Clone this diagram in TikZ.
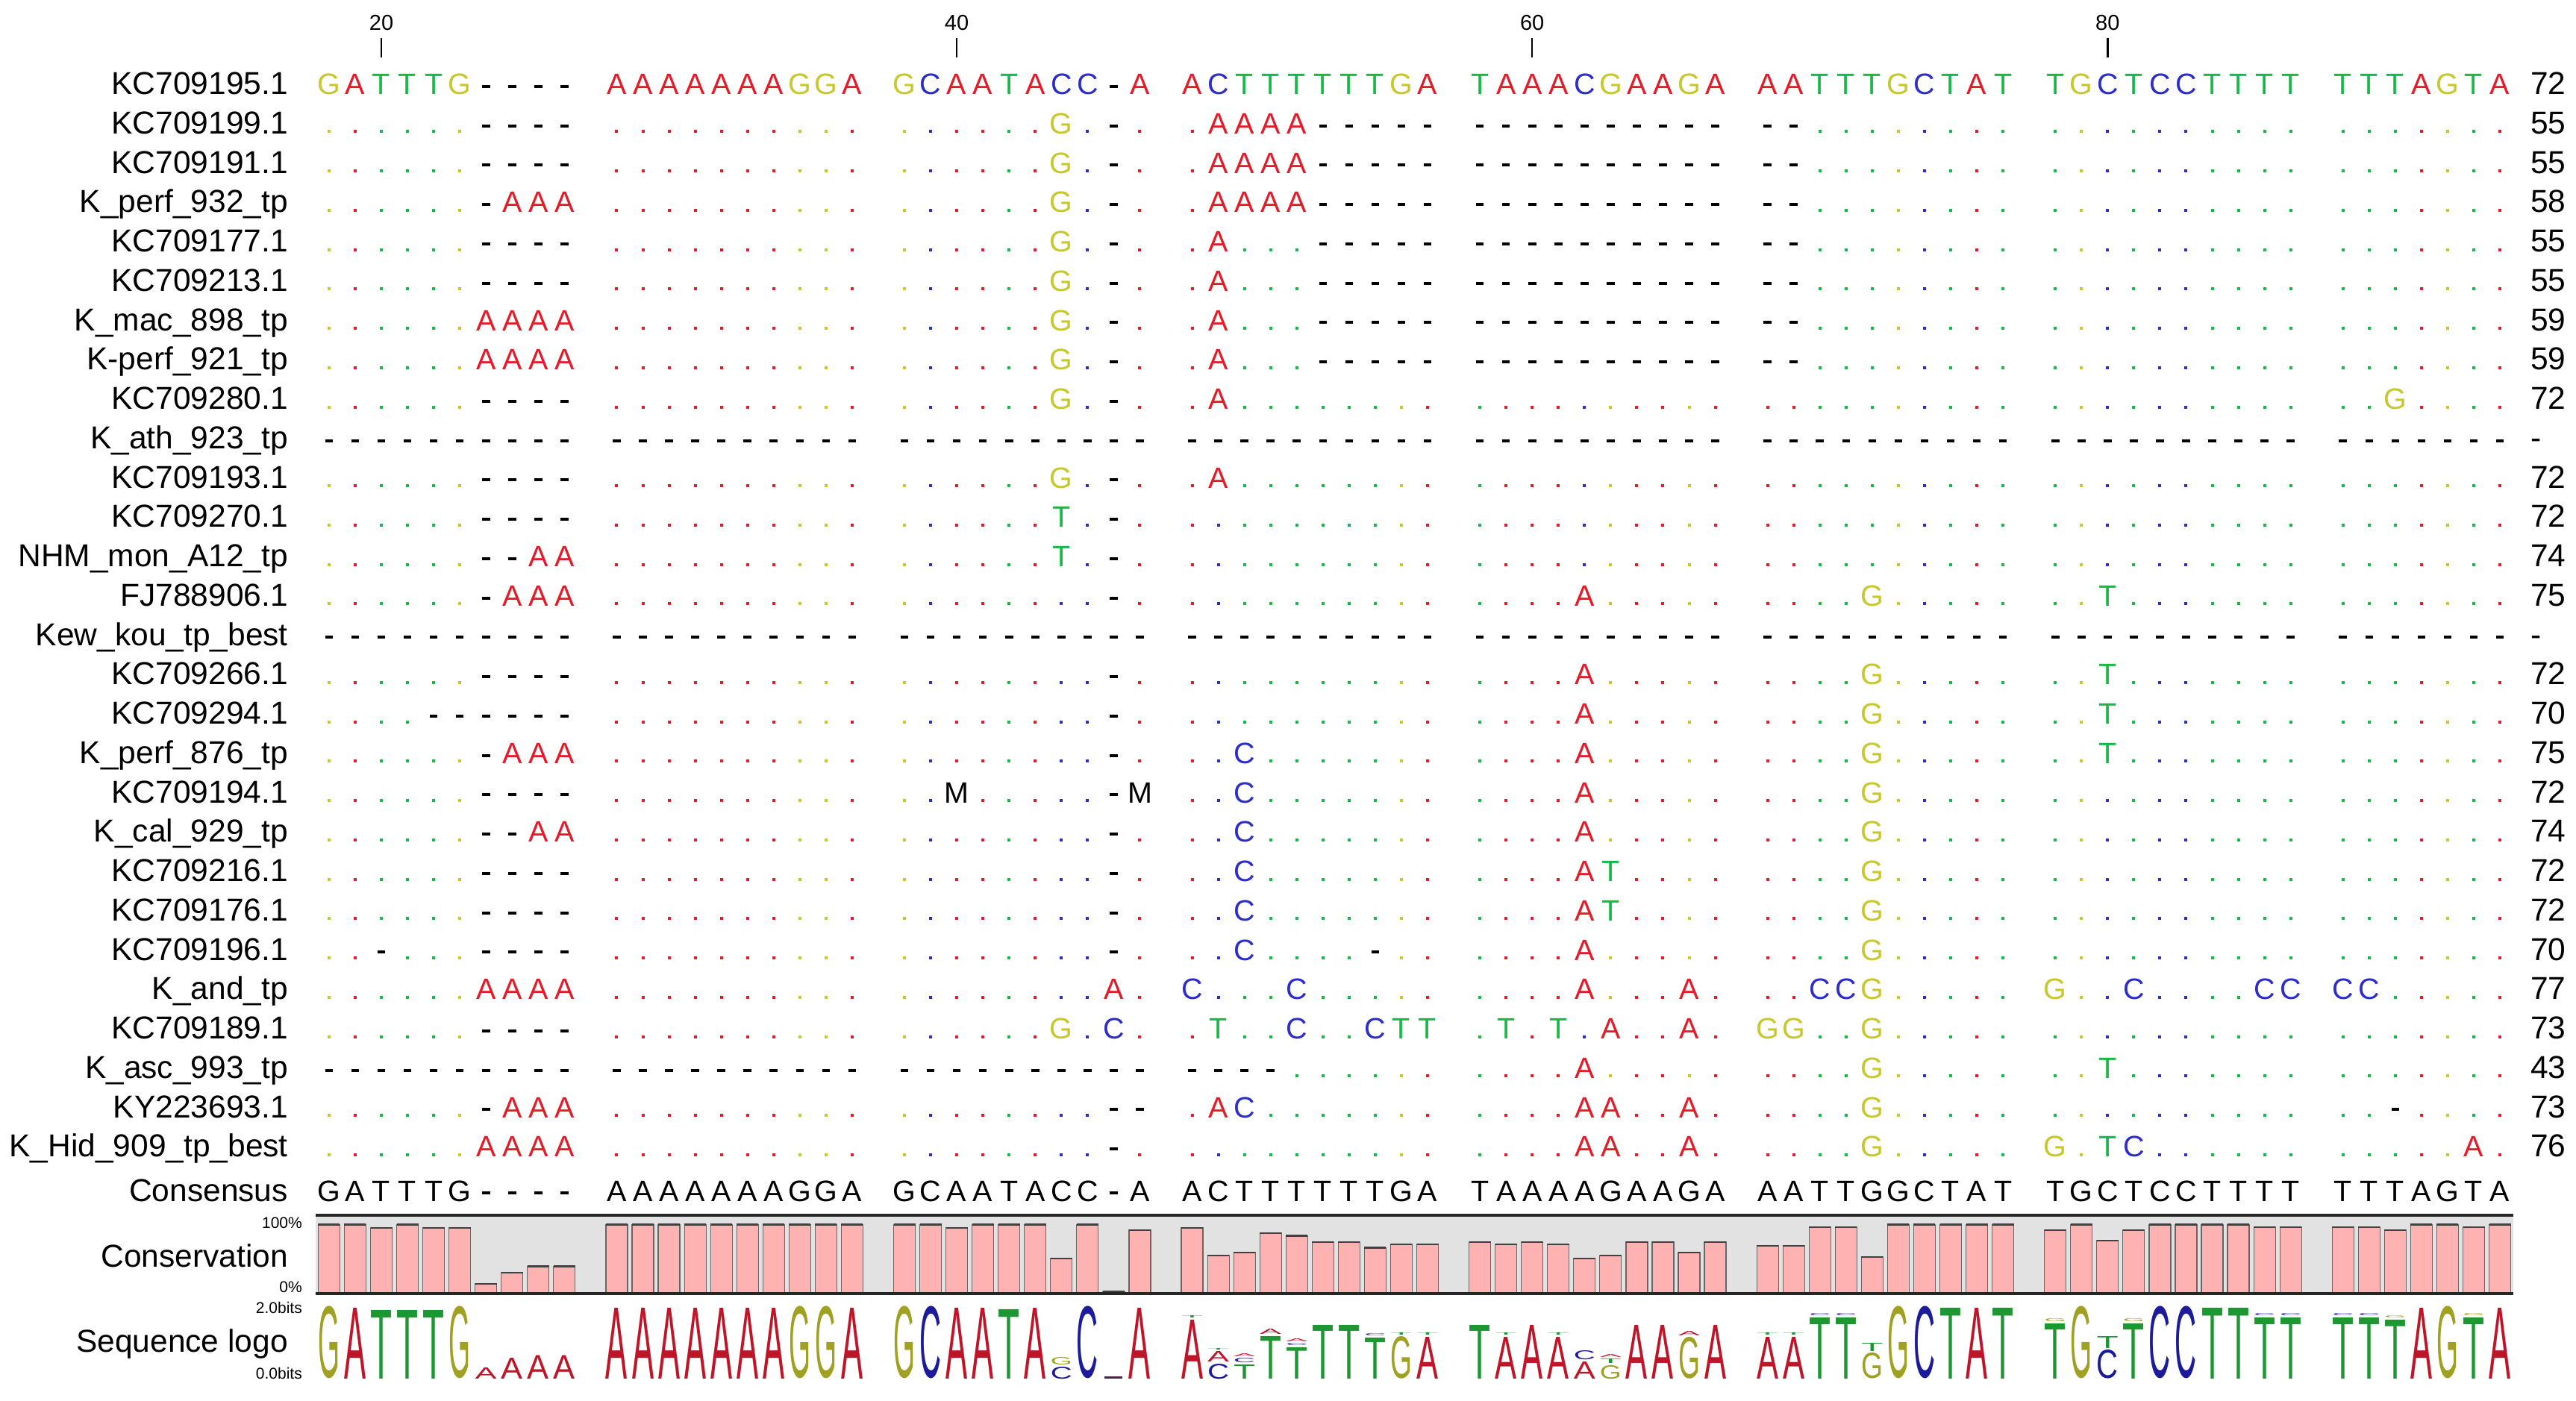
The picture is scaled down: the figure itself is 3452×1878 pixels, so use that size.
\documentclass[tikz,border=0pt]{standalone}
\usepackage{fontspec}
\setmainfont{Liberation Sans}
\usepackage{graphicx}
\definecolor{colA}{RGB}{228,28,42}
\definecolor{colC}{RGB}{45,45,200}
\definecolor{colG}{RGB}{200,200,45}
\definecolor{colT}{RGB}{20,185,70}
\definecolor{colM}{RGB}{0,0,0}
\definecolor{logoA}{RGB}{190,22,40}
\definecolor{logoC}{RGB}{28,28,155}
\definecolor{logoG}{RGB}{160,160,35}
\definecolor{logoT}{RGB}{30,150,50}
\definecolor{logogap}{RGB}{80,30,80}
\definecolor{barfill}{RGB}{255,178,178}
\definecolor{panelbg}{RGB}{226,226,226}
\newcommand\seqfont{\fontsize{39.5pt}{40pt}\selectfont}
\newcommand\namefont{\fontsize{42.5pt}{43pt}\selectfont}
\newcommand\rulerfont{\fontsize{29pt}{30pt}\selectfont}
\newcommand\tinyfont{\fontsize{21pt}{22pt}\selectfont}
\newcommand\alndot[3]{\fill[col#3] (#1-2,#2-5) rectangle (#1+2,#2-1);}
\newcommand\alndash[2]{\fill[black] (#1-5.3,#2-12.8) rectangle (#1+5.3,#2-8.8);}
\newcommand\alnletter[3]{\node[seqlet,text=col#3] at (#1,#2) {#3};}
\ExplSyntaxOn
\int_new:N \l_aln_k_int
\fp_new:N \l_aln_x_fp
\tl_new:N \g_aln_ref_tl
\cs_new_protected:Npn \alnsetref #1
  {
    \tl_gset:Nn \g_aln_ref_tl {#1}
    \tl_gremove_all:Nn \g_aln_ref_tl {/}
  }
\cs_new_protected:Npn \alnrow #1#2
  {
    \int_zero:N \l_aln_k_int
    \tl_map_inline:nn {#2}
      {
        \str_if_eq:nnF {##1} {/}
          {
            \fp_set:Nn \l_aln_x_fp
              { 440.9 + 35.05 * ( \int_use:N \l_aln_k_int + \int_div_truncate:nn { \l_aln_k_int } { 10 } ) }
            \str_case:nnF {##1}
              {
                {.} { \use:e { \exp_not:N \alndot { \fp_use:N \l_aln_x_fp } {#1} { \tl_item:Nn \g_aln_ref_tl { \l_aln_k_int + 1 } } } }
                {-} { \use:e { \exp_not:N \alndash { \fp_use:N \l_aln_x_fp } {#1} } }
              }
              { \use:e { \exp_not:N \alnletter { \fp_use:N \l_aln_x_fp } {#1} {##1} } }
            \int_incr:N \l_aln_k_int
          }
      }
  }
\ExplSyntaxOff
\newcommand\logocol[2]{%
  \pgfmathsetmacro\lx{440.9+35.05*(#1+floor(#1/10))}%
  \xdef\ly{1848.3}%
  \foreach \L/\H in {#2}{%
    \node[logolet,text=logo\L] at (\lx,\ly) {\resizebox{29pt}{\H pt}{\L}};%
    \pgfmathsetmacro\tmp{\ly-\H-2.5}\xdef\ly{\tmp}%
  }%
}
\begin{document}
\begin{tikzpicture}[x=1pt,y=-1pt,
  seqlet/.style={anchor=base,inner sep=0pt,outer sep=0pt,font=\seqfont},
  namelab/.style={anchor=base east,inner sep=0pt,font=\namefont},
  numlab/.style={anchor=base west,inner sep=0pt,font=\namefont},
  rulerlab/.style={anchor=base,inner sep=0pt,font=\rulerfont},
  smalllab/.style={anchor=base east,inner sep=0pt,font=\tinyfont},
  logolet/.style={anchor=south,inner sep=0pt,outer sep=0pt}]
\fill[white] (0,0) rectangle (3452,1878);
\useasboundingbox (0,0) rectangle (3452,1878);
% ruler
\foreach \k/\lab in {2/20,22/40,42/60,62/80}{
  \pgfmathsetmacro\tx{440.9+35.05*(\k+floor(\k/10))}
  \node[rulerlab] (rl\lab) at (\tx,41) {\lab};
  \draw[line width=2.5pt] (\tx,51) -- (\tx,77);
}
% names and lengths
\foreach \r/\nm/\nn in {1/KC709195.1/72, 2/KC709199.1/55, 3/KC709191.1/55, 4/K\_perf\_932\_tp/58, 5/KC709177.1/55, 6/KC709213.1/55, 7/K\_mac\_898\_tp/59, 8/K-perf\_921\_tp/59, 9/KC709280.1/72, 10/K\_ath\_923\_tp/-, 11/KC709193.1/72, 12/KC709270.1/72, 13/NHM\_mon\_A12\_tp/74, 14/FJ788906.1/75, 15/Kew\_kou\_tp\_best/-, 16/KC709266.1/72, 17/KC709294.1/70, 18/K\_perf\_876\_tp/75, 19/KC709194.1/72, 20/K\_cal\_929\_tp/74, 21/KC709216.1/72, 22/KC709176.1/72, 23/KC709196.1/70, 24/K\_and\_tp/77, 25/KC709189.1/73, 26/K\_asc\_993\_tp/43, 27/KY223693.1/73, 28/K\_Hid\_909\_tp\_best/76}{
  \pgfmathsetmacro\bl{126.7+52.75*(\r-1)}
  \node[namelab] (name\r) at (386,\bl) {\nm};
  \node[numlab] (num\r) at (3391,\bl) {\nn};
}
% alignment
\alnsetref{GATTTG----/AAAAAAAGGA/GCAATACC-A/ACTTTTTTGA/TAAACGAAGA/AATTTGCTAT/TGCTCCTTTT/TTTAGTA}
\alnrow{126.7}{GATTTG----/AAAAAAAGGA/GCAATACC-A/ACTTTTTTGA/TAAACGAAGA/AATTTGCTAT/TGCTCCTTTT/TTTAGTA}
\alnrow{179.45}{......----/........../......G.-./.AAAA-----/----------/--......../........../.......}
\alnrow{232.2}{......----/........../......G.-./.AAAA-----/----------/--......../........../.......}
\alnrow{284.95}{......-AAA/........../......G.-./.AAAA-----/----------/--......../........../.......}
\alnrow{337.7}{......----/........../......G.-./.A...-----/----------/--......../........../.......}
\alnrow{390.45}{......----/........../......G.-./.A...-----/----------/--......../........../.......}
\alnrow{443.2}{......AAAA/........../......G.-./.A...-----/----------/--......../........../.......}
\alnrow{495.95}{......AAAA/........../......G.-./.A...-----/----------/--......../........../.......}
\alnrow{548.7}{......----/........../......G.-./.A......../........../........../........../..G....}
\alnrow{601.45}{----------/----------/----------/----------/----------/----------/----------/-------}
\alnrow{654.2}{......----/........../......G.-./.A......../........../........../........../.......}
\alnrow{706.95}{......----/........../......T.-./........../........../........../........../.......}
\alnrow{759.7}{......--AA/........../......T.-./........../........../........../........../.......}
\alnrow{812.45}{......-AAA/........../........-./........../....A...../....G...../..T......./.......}
\alnrow{865.2}{----------/----------/----------/----------/----------/----------/----------/-------}
\alnrow{917.95}{......----/........../........-./........../....A...../....G...../..T......./.......}
\alnrow{970.7}{....------/........../........-./........../....A...../....G...../..T......./.......}
\alnrow{1023.45}{......-AAA/........../........-./..C......./....A...../....G...../..T......./.......}
\alnrow{1076.2}{......----/........../..M.....-M/..C......./....A...../....G...../........../.......}
\alnrow{1128.95}{......--AA/........../........-./..C......./....A...../....G...../........../.......}
\alnrow{1181.7}{......----/........../........-./..C......./....AT..../....G...../........../.......}
\alnrow{1234.45}{......----/........../........-./..C......./....AT..../....G...../........../.......}
\alnrow{1287.2}{..-...----/........../........-./..C....-../....A...../....G...../........../.......}
\alnrow{1339.95}{......AAAA/........../........A./C...C...../....A...A./..CCG...../G..C....CC/CC.....}
\alnrow{1392.7}{......----/........../......G.C./.T..C..CTT/.T.T.A..A./GG..G...../........../.......}
\alnrow{1445.45}{----------/----------/----------/----....../....A...../....G...../..T......./.......}
\alnrow{1498.2}{......-AAA/........../........--/.AC......./....AA..A./....G...../........../..-....}
\alnrow{1550.95}{......AAAA/........../........-./........../....AA..A./....G...../G.TC....../.....A.}
% consensus
\node[namelab] (conslab) at (386,1610) {Consensus};
\begin{scope}
\colorlet{colA}{black}\colorlet{colC}{black}\colorlet{colG}{black}\colorlet{colT}{black}
\alnrow{1610}{GATTTG----/AAAAAAAGGA/GCAATACC-A/ACTTTTTTGA/TAAAAGAAGA/AATTGGCTAT/TGCTCCTTTT/TTTAGTA}
\end{scope}
% conservation panel
\fill[panelbg] (423,1629) rectangle (3368,1734);
\foreach \h [count=\k from 0] in {92.5,92.5,88,92.5,88,88,13,28,36.5,36.5,
  92.5,92.5,92.5,92.5,92.5,92.5,92.5,92.5,92.5,92.5,
  92.5,92.5,88,92.5,92.5,92.5,47,92.5,2.5,85,
  88,51,55,81,77.5,69,69,61.5,66,66,
  69,66,69,66,47,51,69,69,55,69,
  64,64,89,89,49,92.5,92.5,92.5,92.5,92.5,
  85,92.5,71,85,92.5,92.5,92.5,92.5,89,89,
  89,89,85,92.5,92.5,89,92.5}{
  \pgfmathsetmacro\bx{440.9+35.05*(\k+floor(\k/10))}
  \fill[barfill,draw=black!60,line width=1.2pt] (\bx-14.5,1734) rectangle (\bx+14.5,1734-\h);
  \draw[black!75,line width=2.2pt] (\bx-14.5,1734-\h) -- (\bx+14.5,1734-\h);
}
\draw[black!85,line width=3.5pt] (423,1629) -- (3368,1629);
\draw[black!85,line width=3.5pt] (423,1734) -- (3368,1734);
\node[namelab] (conslabel) at (386,1698) {Conservation};
\node[smalllab] (p100) at (405,1646) {100\%};
\node[smalllab] (p0) at (405,1732) {0\%};
% sequence logo
\node[namelab] (logolabel) at (386,1812) {Sequence logo};
\node[smalllab] (b2) at (405,1760) {2.0bits};
\node[smalllab] (b0) at (405,1848) {0.0bits};
\logocol{0}{G/95.5}\logocol{1}{A/95}\logocol{2}{T/92}\logocol{3}{T/92}\logocol{4}{T/92}
\logocol{5}{G/95.5}\logocol{6}{A/15}\logocol{7}{A/28}\logocol{8}{A/31.5}\logocol{9}{A/31.5}
\logocol{10}{A/95}\logocol{11}{A/95}\logocol{12}{A/95}\logocol{13}{A/95}\logocol{14}{A/95}
\logocol{15}{A/95}\logocol{16}{A/95}\logocol{17}{G/95.5}\logocol{18}{G/95.5}\logocol{19}{A/95}
\logocol{20}{G/95.5}\logocol{21}{C/95.5}\logocol{22}{A/95}\logocol{23}{A/95}\logocol{24}{T/93}
\logocol{25}{A/95}\logocol{26}{C/16,G/10}\logocol{27}{C/95.5}\logocol{29}{A/95}
\pgfmathsetmacro\gx{440.9+35.05*30}
\fill[logogap] (\gx-12,1848.3) rectangle (\gx+12,1844.5);
\logocol{30}{A/79,T/3}\logocol{31}{C/20,A/14,T/2}\logocol{32}{T/19,C/6,A/4}
\logocol{33}{T/57,A/7}\logocol{34}{T/42,C/3,A/4}\logocol{35}{T/72}\logocol{36}{T/72}
\logocol{37}{T/55,C/3}\logocol{38}{G/56,T/3}\logocol{39}{A/56,T/3}
\logocol{40}{T/72}\logocol{41}{A/56,T/3}\logocol{42}{A/72}\logocol{43}{A/56,T/3}
\logocol{44}{A/23,C/12}\logocol{45}{G/18,T/6,A/4}\logocol{46}{A/72}\logocol{47}{A/72}
\logocol{48}{G/55,A/6}\logocol{49}{A/72}
\logocol{50}{A/56,T/3}\logocol{51}{A/56,T/3}\logocol{52}{T/82,C/3}\logocol{53}{T/82,C/3}
\logocol{54}{G/34,T/11}\logocol{55}{G/95.5}\logocol{56}{C/95.5}\logocol{57}{T/95}
\logocol{58}{A/95}\logocol{59}{T/95}
\logocol{60}{T/74,G/4}\logocol{61}{G/95.5}\logocol{62}{C/38,T/16}\logocol{63}{T/74,G/4}
\logocol{64}{C/95.5}\logocol{65}{C/95.5}\logocol{66}{T/95}\logocol{67}{T/95}
\logocol{68}{T/82,C/3}\logocol{69}{T/82,C/3}
\logocol{70}{T/82,C/3}\logocol{71}{T/82,C/3}\logocol{72}{T/79,G/3}\logocol{73}{A/95}
\logocol{74}{G/95.5}\logocol{75}{T/82,G/3}\logocol{76}{A/95}
\end{tikzpicture}
\end{document}
